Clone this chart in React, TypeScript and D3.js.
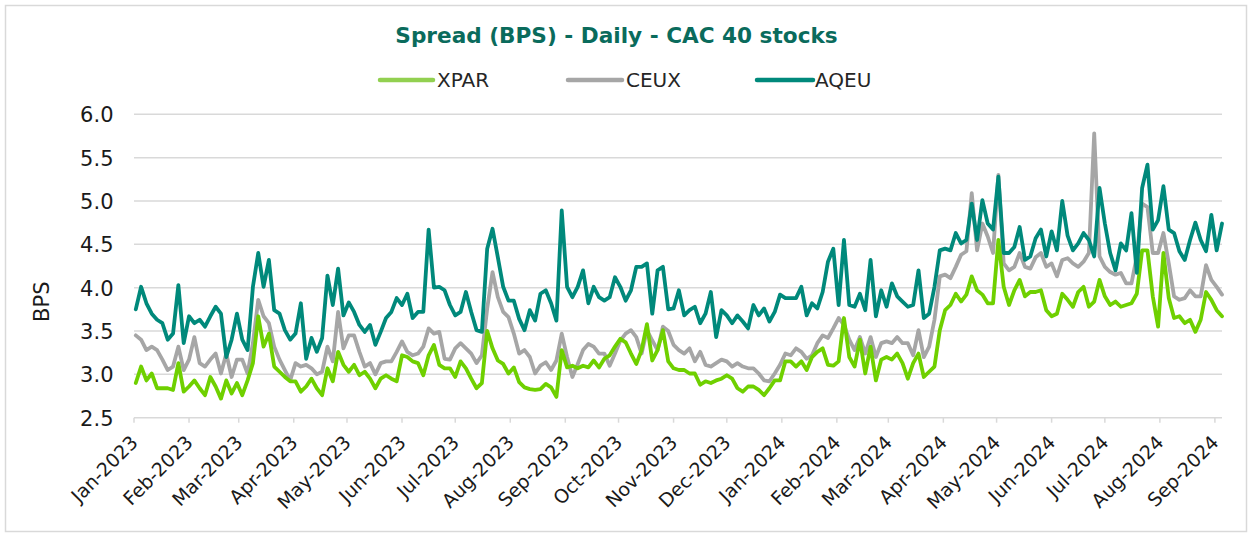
import React from 'react';
import * as d3 from 'd3';

// Sample dates: every 3 calendar days starting 2 Jan 2023
const START_UTC = Date.UTC(2023, 0, 2);
const STEP_DAYS = 3;

const XPAR = [
  2.90, 3.09, 2.93, 3.01, 2.84, 2.84, 2.84, 2.82, 3.13, 2.80,
  2.86, 2.93, 2.84, 2.76, 2.97, 2.86, 2.72, 2.93, 2.78, 2.90,
  2.76, 2.93, 3.13, 3.67, 3.32, 3.47, 3.09, 3.03, 2.97, 2.92,
  2.92, 2.80, 2.86, 2.95, 2.84, 2.76, 3.07, 2.92, 3.26, 3.11,
  3.03, 3.11, 2.99, 3.03, 2.95, 2.84, 2.95, 2.99, 2.95, 2.92,
  3.22, 3.20, 3.15, 3.13, 2.99, 3.22, 3.34, 3.11, 3.07, 3.07,
  2.97, 3.15, 3.07, 2.95, 2.84, 2.90, 3.50, 3.30, 3.16, 3.12,
  3.01, 3.08, 2.91, 2.85, 2.83, 2.82, 2.83, 2.89, 2.85, 2.74,
  3.28, 3.08, 3.10, 3.07, 3.10, 3.08, 3.16, 3.08, 3.18, 3.22,
  3.32, 3.41, 3.37, 3.24, 3.12, 3.28, 3.58, 3.16, 3.28, 3.51,
  3.15, 3.07, 3.05, 3.05, 3.01, 3.01, 2.88, 2.92, 2.90, 2.93,
  2.95, 2.99, 2.95, 2.84, 2.80, 2.86, 2.86, 2.82, 2.76, 2.84,
  2.93, 2.93, 3.15, 3.15, 3.09, 3.15, 3.05, 3.20, 3.26, 3.30,
  3.11, 3.10, 3.15, 3.65, 3.20, 3.09, 3.40, 3.01, 3.32, 2.93,
  3.17, 3.20, 3.17, 3.24, 3.13, 2.95, 3.13, 3.24, 2.97, 3.03,
  3.09, 3.51, 3.74, 3.80, 3.93, 3.84, 3.92, 4.13, 3.97, 3.92,
  3.82, 3.82, 4.55, 4.01, 3.80, 3.97, 4.09, 3.90, 3.95, 3.95,
  3.97, 3.74, 3.67, 3.70, 3.93, 3.86, 3.78, 3.95, 4.01, 3.78,
  3.84, 4.09, 3.90, 3.80, 3.84, 3.78, 3.80, 3.82, 3.93, 4.43,
  4.43, 3.90, 3.55, 4.40, 3.88, 3.65, 3.67, 3.59, 3.63, 3.49,
  3.63, 3.95, 3.86, 3.74, 3.67,
];

const CEUX = [
  3.45, 3.40, 3.28, 3.32, 3.28, 3.17, 3.05, 3.09, 3.32, 3.05,
  3.17, 3.43, 3.13, 3.09, 3.17, 3.24, 3.01, 3.24, 2.97, 3.17,
  3.17, 3.01, 3.36, 3.86, 3.67, 3.59, 3.32, 3.17, 3.05, 2.93,
  3.13, 3.09, 3.11, 3.07, 3.00, 3.03, 3.32, 3.15, 3.72, 3.30,
  3.45, 3.45, 3.26, 3.09, 3.13, 3.00, 3.13, 3.15, 3.15, 3.26,
  3.38, 3.26, 3.22, 3.24, 3.32, 3.53, 3.47, 3.49, 3.18, 3.17,
  3.30, 3.36, 3.30, 3.24, 3.13, 3.22, 3.76, 4.18, 3.89, 3.72,
  3.66, 3.47, 3.24, 3.28, 3.20, 3.01, 3.10, 3.14, 3.05, 3.16,
  3.47, 3.20, 2.97, 3.12, 3.28, 3.35, 3.32, 3.24, 3.24, 3.10,
  3.24, 3.39, 3.47, 3.51, 3.43, 3.24, 3.51, 3.39, 3.28, 3.55,
  3.50, 3.34, 3.28, 3.24, 3.30, 3.15, 3.26, 3.11, 3.09, 3.13,
  3.17, 3.15, 3.09, 3.13, 3.09, 3.07, 3.07, 3.01, 2.93, 2.92,
  3.01, 3.11, 3.24, 3.22, 3.30, 3.26, 3.18, 3.22, 3.36, 3.45,
  3.42, 3.53, 3.65, 3.57, 3.40, 3.28, 3.43, 3.24, 3.43, 3.20,
  3.36, 3.38, 3.36, 3.43, 3.36, 3.36, 3.22, 3.51, 3.20, 3.32,
  3.63, 4.13, 4.15, 4.11, 4.24, 4.38, 4.42, 5.09, 4.43, 4.74,
  4.59, 4.40, 5.30, 4.28, 4.20, 4.24, 4.40, 4.24, 4.22, 4.35,
  4.40, 4.24, 4.28, 4.13, 4.32, 4.34, 4.28, 4.24, 4.30, 4.40,
  5.78, 4.36, 4.24, 4.18, 4.15, 4.17, 4.05, 4.05, 4.36, 4.97,
  4.93, 4.40, 4.40, 4.63, 4.28, 3.90, 3.86, 3.88, 3.97, 3.90,
  3.90, 4.26, 4.09, 4.01, 3.92,
];

const AQEU = [
  3.75, 4.01, 3.82, 3.70, 3.63, 3.59, 3.40, 3.47, 4.03, 3.36,
  3.67, 3.59, 3.63, 3.55, 3.67, 3.78, 3.70, 3.20, 3.40, 3.70,
  3.40, 3.28, 4.01, 4.40, 4.01, 4.32, 3.74, 3.70, 3.51, 3.40,
  3.47, 3.82, 3.18, 3.42, 3.26, 3.42, 4.14, 3.80, 4.22, 3.68,
  3.83, 3.72, 3.57, 3.49, 3.57, 3.34, 3.49, 3.65, 3.72, 3.88,
  3.80, 3.93, 3.65, 3.72, 3.72, 4.67, 4.00, 4.01, 3.97, 3.80,
  3.68, 3.72, 3.95, 3.72, 3.51, 3.49, 4.45, 4.68, 4.35, 4.01,
  3.85, 3.85, 3.64, 3.51, 3.74, 3.62, 3.93, 3.97, 3.82, 3.62,
  4.89, 4.01, 3.89, 4.01, 4.20, 3.82, 4.01, 3.89, 3.85, 3.89,
  4.12, 4.01, 3.85, 3.97, 4.24, 4.24, 4.28, 3.70, 4.20, 4.24,
  3.75, 3.76, 3.97, 3.68, 3.74, 3.78, 3.59, 3.70, 3.95, 3.43,
  3.74, 3.68, 3.59, 3.68, 3.61, 3.53, 3.80, 3.68, 3.76, 3.61,
  3.72, 3.92, 3.88, 3.88, 3.88, 4.01, 3.68, 3.82, 3.76, 3.95,
  4.30, 4.45, 3.80, 4.55, 3.80, 3.78, 3.93, 3.74, 4.32, 3.67,
  3.97, 3.78, 4.05, 3.90, 3.84, 3.78, 3.80, 4.20, 3.65, 3.70,
  4.01, 4.43, 4.45, 4.43, 4.63, 4.51, 4.55, 4.97, 4.55, 5.01,
  4.74, 4.67, 5.28, 4.40, 4.40, 4.47, 4.70, 4.32, 4.36, 4.57,
  4.67, 4.36, 4.65, 4.43, 5.00, 4.60, 4.43, 4.51, 4.63, 4.55,
  4.36, 5.15, 4.74, 4.40, 4.20, 4.51, 4.43, 4.86, 4.17, 5.15,
  5.42, 4.67, 4.78, 5.17, 4.67, 4.63, 4.42, 4.32, 4.55, 4.75,
  4.55, 4.42, 4.84, 4.43, 4.74,
];

const Y_TICKS = [2.5, 3.0, 3.5, 4.0, 4.5, 5.0, 5.5, 6.0];
const TITLE = 'Spread (BPS) - Daily - CAC 40 stocks';
const Y_TITLE = 'BPS';

const LINE_COLORS: Record<string, string> = { XPAR: '#6fd000', CEUX: '#a6a6a6', AQEU: '#00897b' };
const LEGEND_COLORS: Record<string, string> = { XPAR: '#92d050', CEUX: '#a6a6a6', AQEU: '#00897b' };
const VALUES: Record<string, number[]> = { XPAR, CEUX, AQEU };
const DRAW_ORDER = ['CEUX', 'XPAR', 'AQEU'];

const FONT = '"DejaVu Sans", Verdana, sans-serif';

export default function App() {
  const W = 1253;
  const H = 534;
  const left = 134;
  const right = 1222;
  const top = 114.3;
  const bottom = 417.7;

  const x = d3
    .scaleUtc()
    .domain([new Date(Date.UTC(2023, 0, 1)), new Date(Date.UTC(2024, 8, 5))])
    .range([left, right]);
  const y = d3.scaleLinear().domain([2.5, 6]).range([bottom, top]);

  const dates = XPAR.map((_, i) => new Date(START_UTC + i * STEP_DAYS * 86400000));
  const monthTicks = d3.utcMonth.range(new Date(Date.UTC(2023, 0, 1)), new Date(Date.UTC(2024, 8, 2)));
  const fmt = d3.utcFormat('%b-%Y');

  const line = d3
    .line<number>()
    .x((_, i) => x(dates[i]))
    .y((v) => y(v))
    .curve(d3.curveLinear);

  const legendItems = [
    { name: 'XPAR', x1: 380, x2: 433, tx: 437 },
    { name: 'CEUX', x1: 568, x2: 622, tx: 626 },
    { name: 'AQEU', x1: 757, x2: 813, tx: 815 },
  ];

  return (
    <svg
      width={W}
      height={H}
      style={{ position: 'absolute', left: 0, top: 0, background: '#fff' }}
      fontFamily={FONT}
    >
      <rect x={5.5} y={5.5} width={1241} height={526} fill="#fff" stroke="#d9d9d9" strokeWidth={1.5} />
      <text x={616.5} y={42.5} textAnchor="middle" fontSize={21.6} fontWeight="bold" fill="#0a6b5c">
        {TITLE}
      </text>
      {legendItems.map((it) => (
        <g key={it.name}>
          <line x1={it.x1} x2={it.x2} y1={80} y2={80} stroke={LEGEND_COLORS[it.name]} strokeWidth={4.5} strokeLinecap="round" />
          <text x={it.tx} y={87} fontSize={20} fill="#262626">
            {it.name}
          </text>
        </g>
      ))}
      {Y_TICKS.map((t) => (
        <g key={t}>
          <line x1={left} x2={right} y1={y(t)} y2={y(t)} stroke="#d9d9d9" strokeWidth={1.5} />
          <text x={113.5} y={y(t) + 8} textAnchor="end" fontSize={21} fill="#1a1a1a">
            {t.toFixed(1)}
          </text>
        </g>
      ))}
      {monthTicks.map((d) => (
        <g key={d.toISOString()}>
          <line x1={x(d)} x2={x(d)} y1={bottom} y2={bottom + 5} stroke="#d9d9d9" strokeWidth={1.5} />
          <text
            transform={`translate(${x(d) + 5},${bottom + 26}) rotate(-45)`}
            textAnchor="end"
            fontSize={19}
            fill="#1a1a1a"
          >
            {fmt(d)}
          </text>
        </g>
      ))}
      <text transform={`translate(48.5,301.7) rotate(-90)`} textAnchor="middle" fontSize={21} fill="#1a1a1a">
        {Y_TITLE}
      </text>
      {DRAW_ORDER.map((name) => (
        <path
          key={name}
          d={line(VALUES[name]) || ''}
          fill="none"
          stroke={LINE_COLORS[name]}
          strokeWidth={3.8}
          strokeLinejoin="round"
          strokeLinecap="round"
        />
      ))}
    </svg>
  );
}
